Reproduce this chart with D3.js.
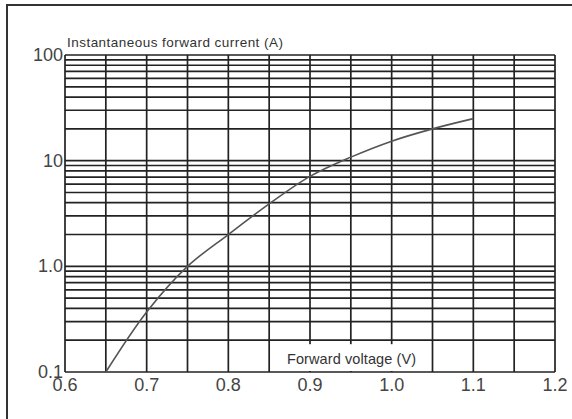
<!DOCTYPE html>
<html>
<head>
<meta charset="utf-8">
<script src="https://cdn.jsdelivr.net/npm/d3@7"></script>
<style>
  body { margin: 0; background: #fff; }
  text { font-family: "Liberation Sans", Arial, sans-serif; }
</style>
</head>
<body>
<script>
// values
var voltage = [0.65, 0.7, 0.75, 0.8, 0.85, 0.9, 0.95, 1.0, 1.05, 1.1];
var current = [0.1, 0.37, 1.0, 2.0, 3.9, 7.1, 10.8, 15.3, 20, 25];
var xTicks = [0.6, 0.7, 0.8, 0.9, 1.0, 1.1, 1.2];
var xTickLabels = ["0.6", "0.7", "0.8", "0.9", "1.0", "1.1", "1.2"];
var yTicks = [0.1, 1, 10, 100];
var yTickLabels = ["0.1", "1.0", "10", "100"];

var W = 572, H = 419;
var margin = { left: 65, right: 17, top: 55, bottom: 47 },
    width = W - margin.left - margin.right,
    height = H - margin.top - margin.bottom;

var svg = d3.select("body").append("svg")
    .attr("width", W)
    .attr("height", H);

// outer frame (left and top edges visible)
svg.append("path")
    .attr("d", "M7," + H + "V5H" + W)
    .attr("fill", "none")
    .attr("stroke", "#333")
    .attr("stroke-width", 2);

var g = svg.append("g")
    .attr("transform", "translate(" + margin.left + "," + margin.top + ")");

var x = d3.scaleLinear().domain([0.6, 1.2]).range([0, width]);
var y = d3.scaleLog().domain([0.1, 100]).range([height, 0]);

// grid
var vLines = d3.range(0, 13).map(function(i) { return +(0.6 + i * 0.05).toFixed(2); });
var hLines = [];
[0.1, 1, 10].forEach(function(d) {
  for (var k = 1; k <= 9; k++) hLines.push(d * k);
});
hLines.push(100);

g.append("g").selectAll("line.h")
  .data(hLines).enter().append("line")
    .attr("x1", 0).attr("x2", width)
    .attr("y1", function(d) { return y(d); })
    .attr("y2", function(d) { return y(d); })
    .attr("stroke", "#222").attr("stroke-width", 1.7);

g.append("g").selectAll("line.v")
  .data(vLines).enter().append("line")
    .attr("x1", function(d) { return x(d); })
    .attr("x2", function(d) { return x(d); })
    .attr("y1", 0).attr("y2", height)
    .attr("stroke", "#222").attr("stroke-width", 1.7);

// white patch behind x axis title
g.append("rect")
    .attr("x", x(0.875)).attr("y", y(0.2) + 4)
    .attr("width", x(1.04) - x(0.875))
    .attr("height", height - y(0.2) - 5)
    .attr("fill", "#fff");

// curve
var line = d3.line()
    .x(function(d, i) { return x(voltage[i]); })
    .y(function(d) { return y(d); })
    .curve(d3.curveCatmullRom.alpha(0.5));

g.append("path")
    .datum(current)
    .attr("d", line)
    .attr("fill", "none")
    .attr("stroke", "#555")
    .attr("stroke-width", 1.6);

// tick labels
g.append("g").selectAll("text")
  .data(yTicks).enter().append("text")
    .attr("x", -2)
    .attr("y", function(d) { return y(d) + 6; })
    .attr("text-anchor", "end")
    .attr("font-size", 18)
    .attr("fill", "#444")
    .text(function(d, i) { return yTickLabels[i]; });

g.append("g").selectAll("text")
  .data(xTicks).enter().append("text")
    .attr("x", function(d) { return x(d); })
    .attr("y", height + 19)
    .attr("text-anchor", "middle")
    .attr("font-size", 18)
    .attr("fill", "#444")
    .text(function(d, i) { return xTickLabels[i]; });

// axis titles
g.append("text")
    .attr("x", 2).attr("y", -8)
    .attr("font-size", 13.5)
    .attr("textLength", 216)
    .attr("fill", "#333")
    .text("Instantaneous forward current (A)");

g.append("text")
    .attr("x", x(0.9) - 23).attr("y", height - 8)
    .attr("font-size", 14.5)
    .attr("textLength", 129)
    .attr("fill", "#333")
    .text("Forward voltage (V)");
</script>
</body>
</html>
